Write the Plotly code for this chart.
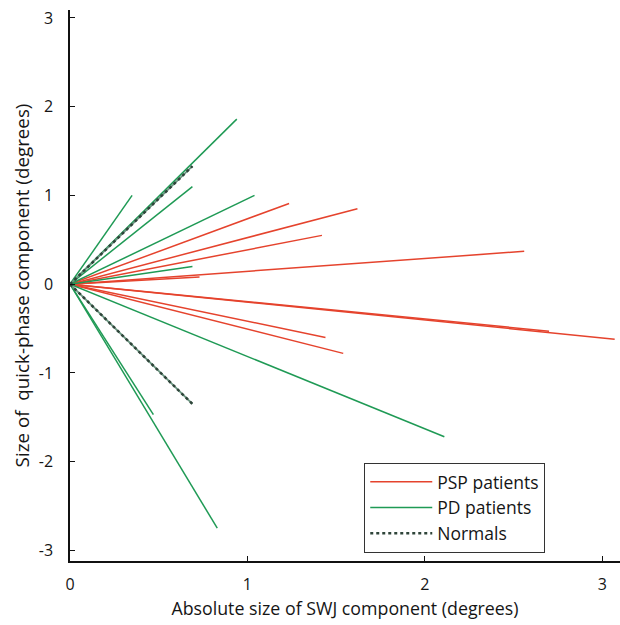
import plotly.graph_objects as go

# Endpoints of each vector (origin -> endpoint), in degrees
psp_x = [1.235, 1.62, 1.42, 2.56, 0.73, 3.07, 2.70, 1.44, 1.54]
psp_y = [0.91, 0.85, 0.55, 0.37, 0.08, -0.62, -0.53, -0.60, -0.78]

pd_x = [0.94, 0.35, 0.69, 1.04, 0.69, 2.11, 0.47, 0.83]
pd_y = [1.86, 1.00, 1.10, 1.00, 0.20, -1.72, -1.47, -2.75]

normal_x = [0.69, 0.69]
normal_y = [1.33, -1.35]

x_ticks = [0, 1, 2, 3]
x_tick_text = ["0", "1", "2", "3"]
y_ticks = [-3, -2, -1, 0, 1, 2, 3]
y_tick_text = ["-3", "-2", "-1", "0", "1", "2", "3"]

RED = "#e5432d"
GREEN = "#1f9a55"
FONT = "Open Sans"

fig = go.Figure()

for i, (x, y) in enumerate(zip(psp_x, psp_y)):
    fig.add_trace(go.Scatter(x=[0, x], y=[0, y], mode="lines",
                             line=dict(color=RED, width=1.5),
                             name="PSP patients", legendgroup="psp",
                             showlegend=(i == 0), hoverinfo="skip"))

for i, (x, y) in enumerate(zip(pd_x, pd_y)):
    fig.add_trace(go.Scatter(x=[0, x], y=[0, y], mode="lines",
                             line=dict(color=GREEN, width=1.5),
                             name="PD patients", legendgroup="pd",
                             showlegend=(i == 0), hoverinfo="skip"))

for i, (x, y) in enumerate(zip(normal_x, normal_y)):
    fig.add_trace(go.Scatter(x=[0, x], y=[0, y], mode="lines",
                             line=dict(color="#6a9580", width=1.8),
                             showlegend=False, hoverinfo="skip"))
    fig.add_trace(go.Scatter(x=[0, x], y=[0, y], mode="lines",
                             line=dict(color="#2f453a", width=2.5, dash="dot"),
                             name="Normals", legendgroup="norm",
                             showlegend=(i == 0), hoverinfo="skip"))

fig.update_layout(
    width=620, height=625,
    margin=dict(l=70, r=0, t=10, b=64),
    paper_bgcolor="white", plot_bgcolor="white",
    font=dict(family=FONT, size=16, color="#151515"),
    showlegend=True,
    legend=dict(x=0.535, y=0.178, xanchor="left", yanchor="top",
                bordercolor="#333", borderwidth=1, bgcolor="white",
                font=dict(family=FONT, size=17.5, color="#151515"),
                tracegroupgap=0, itemwidth=62),
    xaxis=dict(range=[0, 3.1], tickvals=x_ticks, ticktext=x_tick_text,
               ticks="inside", ticklen=5,
               tickcolor="#111", showline=True, linecolor="#111", linewidth=2,
               showgrid=False, zeroline=False, ticklabelstandoff=8,
               title=dict(text="Absolute size of SWJ component (degrees)",
                          standoff=8, font=dict(size=17.8))),
    yaxis=dict(range=[-3.12, 3.09], tickvals=y_ticks, ticktext=y_tick_text,
               ticks="inside", ticklen=5,
               tickcolor="#111", showline=True, linecolor="#111", linewidth=1.5,
               showgrid=False, zeroline=False, ticklabelstandoff=12,
               title=dict(text="Size of\u00a0 quick-phase component (degrees)",
                          standoff=4, font=dict(size=18.8))),
)

fig.write_html("out.html")
